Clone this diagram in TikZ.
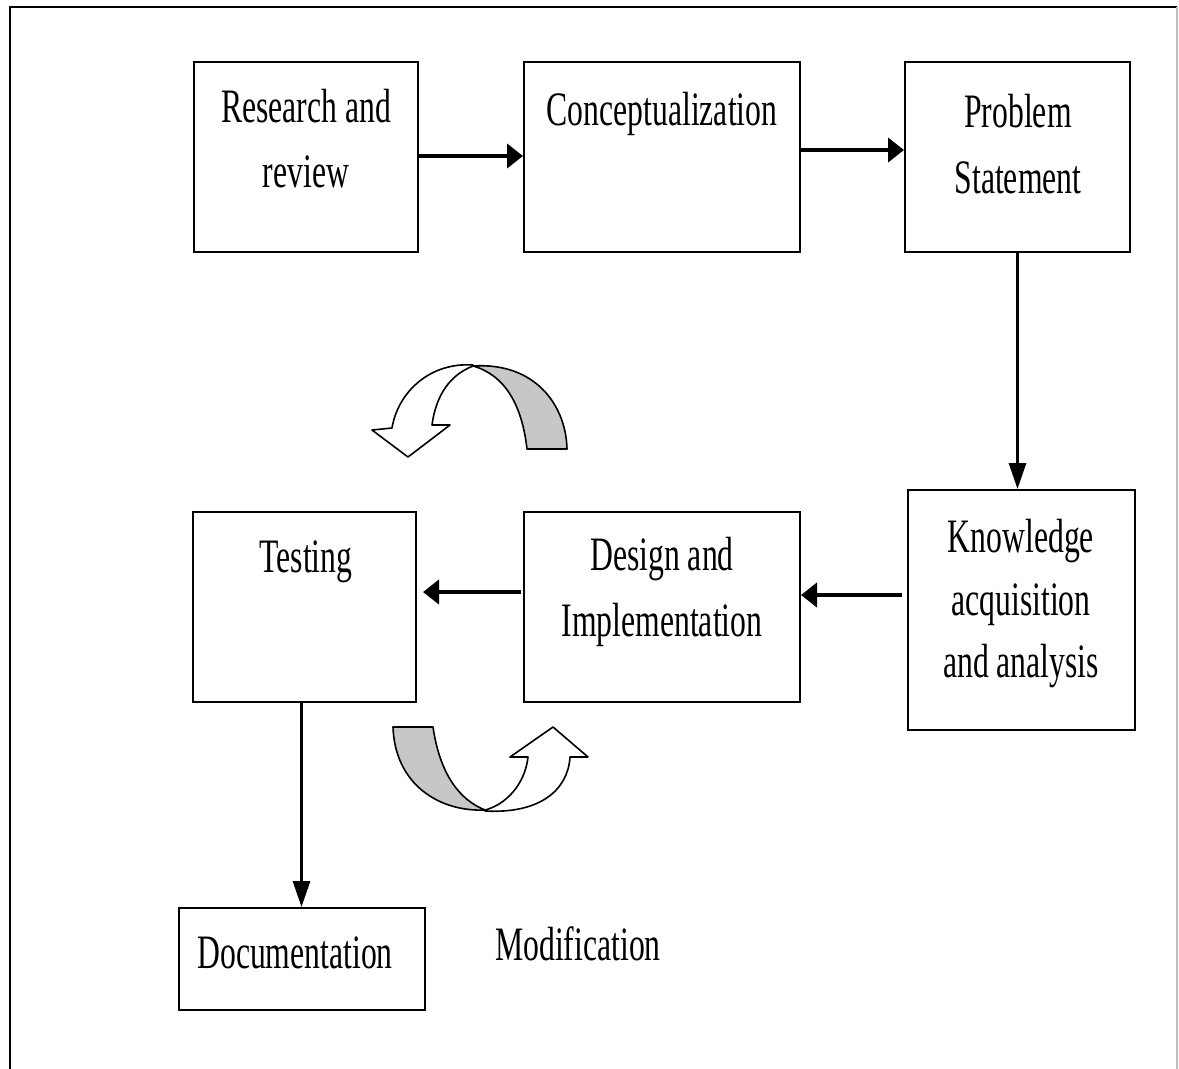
\documentclass[tikz,border=0pt]{standalone}
\usepackage{fontspec}
\setmainfont[FakeStretch=0.66]{Liberation Serif}
\usetikzlibrary{arrows.meta}
\begin{document}
\begin{tikzpicture}[x=1pt,y=-1pt,
  box/.style={draw, line width=2pt, inner sep=0pt},
  txt/.style={font=\fontsize{48}{64}\selectfont, align=center, inner sep=0pt, anchor=base},
  arr/.style={line width=4pt, -{Triangle[length=16pt,width=24pt]}},
  varr/.style={line width=3pt, -{Triangle[length=26pt,width=17pt]}},
  ribbon/.style={draw, line width=1.6pt, line join=round}]
\useasboundingbox (0,0) rectangle (1179,1069);
\fill[white] (0,0) rectangle (1179,1069);
% frame
\draw[line width=2.6pt] (10,1069) -- (10,7) -- (1177,7);
\draw[line width=1.4pt, black!25] (1177,7) -- (1177,1069);
% boxes
\node[box, minimum width=224pt, minimum height=190pt] (r) at (306,157) {};
\node[box, minimum width=276pt, minimum height=190pt] (c) at (662,157) {};
\node[box, minimum width=225pt, minimum height=190pt] (p) at (1017.5,157) {};
\node[box, minimum width=227pt, minimum height=240pt] (k) at (1021.5,610) {};
\node[box, minimum width=276pt, minimum height=190pt] (d) at (662,607) {};
\node[box, minimum width=223pt, minimum height=190pt] (t) at (304.5,607) {};
\node[box, minimum width=246pt, minimum height=102pt] (doc) at (302,959) {};
% texts
\node[txt] (tr1) at (306,122) {Research and};
\node[txt] (tr2) at (306,187) {review};
\node[txt] (tc) at (662,125) {Conceptualization};
\node[txt] (tp1) at (1018,127) {Problem};
\node[txt] (tp2) at (1018,193) {Statement};
\node[txt] (tk1) at (1021,552) {Knowledge};
\node[txt] (tk2) at (1021,615) {acquisition};
\node[txt] (tk3) at (1021,677) {and analysis};
\node[txt] (td1) at (662,570) {Design and};
\node[txt] (td2) at (662,636) {Implementation};
\node[txt] (tt) at (306,572) {Testing};
\node[txt] (tdoc) at (295,968) {Documentation};
\node[txt] (tm) at (578,960) {Modification};
% connectors
\draw[arr] ([yshift=1pt]r.east) -- ([yshift=1pt]c.west);
\draw[arr] ([yshift=7pt]c.east) -- ([yshift=7pt]p.west);
\draw[varr] (p.south) -- (p.south |- k.north);
\draw[arr] ([xshift=-5pt,yshift=15pt]k.west) -- ([yshift=15pt]k.west -| d.east);
\draw[arr] ([xshift=-2pt,yshift=15pt]d.west) -- ([xshift=6pt,yshift=15pt]t.east);
\draw[varr] ([xshift=-3pt]t.south) -- ([xshift=-3pt]t.south |- doc.north);
% upper curved arrow
\path[ribbon, fill=black!22] (527,449) .. controls (522,405) and (505,375) .. (473,366)
  .. controls (535,362) and (566,405) .. (567,449) -- cycle;
\path[ribbon, fill=white] (473,365) .. controls (430,362) and (398,392) .. (392,428)
  -- (372,430) -- (408,457) -- (450,425) -- (432,425)
  .. controls (436,395) and (450,375) .. (473,366) -- cycle;
% lower curved arrow
\path[ribbon, fill=black!22] (393,727) -- (433,727) .. controls (440,775) and (460,800) .. (485,810)
  .. controls (440,812) and (395,785) .. (393,727) -- cycle;
\path[ribbon, fill=white] (485,811) .. controls (540,814) and (568,790) .. (570,757)
  -- (588,757) -- (553,727) -- (510,757) -- (528,757)
  .. controls (525,785) and (505,805) .. (485,810) -- cycle;
\end{tikzpicture}
\end{document}
